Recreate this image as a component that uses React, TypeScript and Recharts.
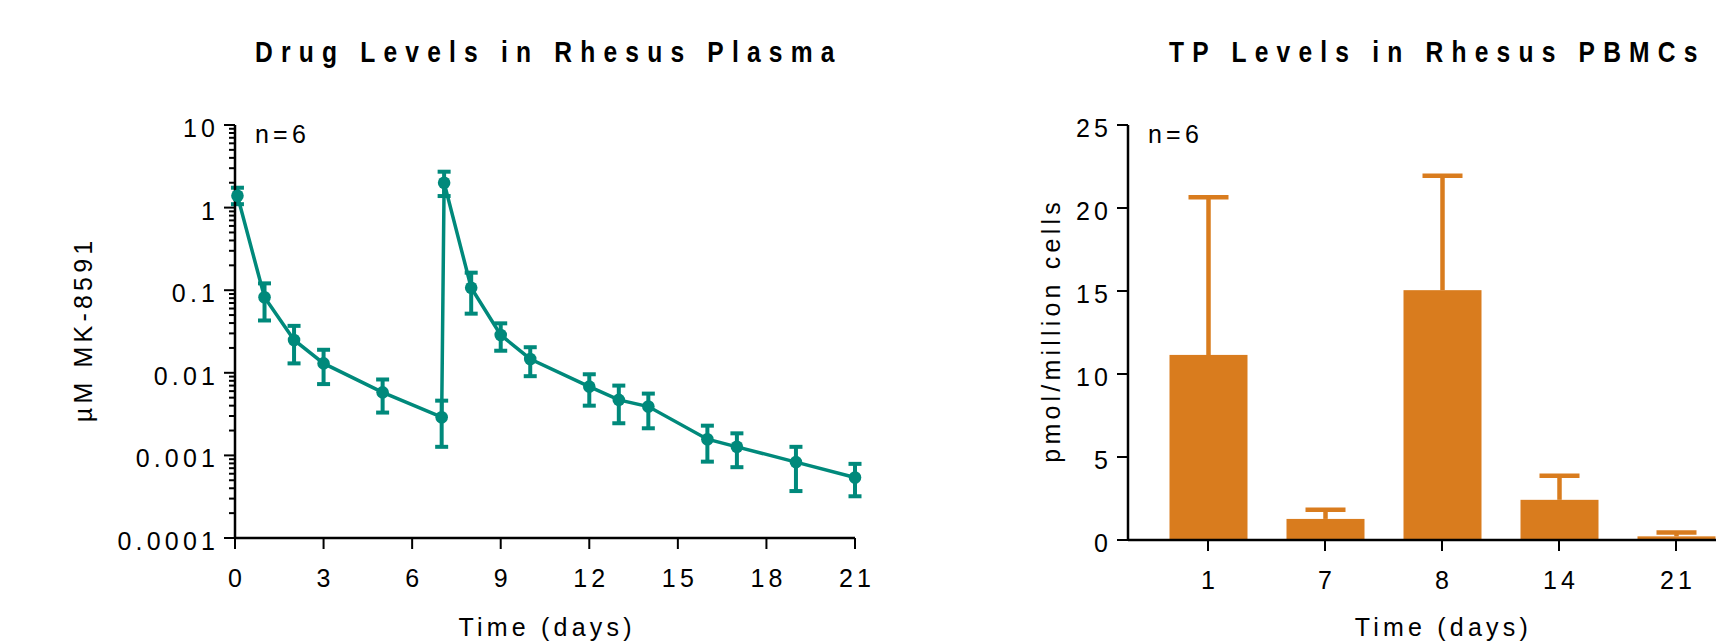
import React from 'react'
import { Bar, BarChart, ComposedChart, ErrorBar, Line, XAxis, YAxis } from 'recharts'

const TEAL = '#00897b'
const ORANGE = '#d97c1e'
const FONT = '"Liberation Sans", Arial, sans-serif'
const FS = 25 // tick / axis text size
const LS = 4.2 // Prism-style wide letter spacing

// plasma MK-8591, mean with low/high error ends (µM)
const plasmaDays = [0.083, 1, 2, 3, 5, 7, 7.083, 8, 9, 10, 12, 13, 14, 16, 17, 19, 21]
const plasmaMean = [1.39, 0.082, 0.025, 0.013, 0.0058, 0.0029, 2.0, 0.107, 0.0287, 0.0147, 0.0068, 0.0047, 0.0039, 0.00157, 0.00127, 0.00083, 0.00054]
const plasmaLow = [1.1, 0.043, 0.013, 0.0073, 0.0033, 0.00127, 1.38, 0.052, 0.0185, 0.0091, 0.004, 0.00245, 0.00213, 0.00084, 0.00072, 0.00037, 0.00032]
const plasmaHigh = [1.74, 0.121, 0.037, 0.019, 0.0083, 0.0046, 2.72, 0.163, 0.0397, 0.0204, 0.0096, 0.007, 0.0056, 0.00229, 0.00185, 0.00127, 0.00079]
const plasmaDayTicks = [0, 3, 6, 9, 12, 15, 18, 21]
const plasmaDecades = [0.0001, 0.001, 0.01, 0.1, 1, 10]
const plasmaDecadeLabels = ['0.0001', '0.001', '0.01', '0.1', '1', '10']

// TP in PBMCs, mean + SD (pmol/million cells)
const pbmcDays = ['1', '7', '8', '14', '21']
const pbmcMean = [11.15, 1.27, 15.05, 2.42, 0.22]
const pbmcSd = [9.5, 0.55, 6.9, 1.45, 0.23]
const pbmcTicks = [0, 5, 10, 15, 20, 25]

const plasmaRows = plasmaDays.map((day, i) => ({
  day,
  mean: plasmaMean[i],
  err: [plasmaMean[i] - plasmaLow[i], plasmaHigh[i] - plasmaMean[i]],
}))

// log axis: decades plus 2..9 minor ticks
const logTicks = plasmaDecades.flatMap((d, i) =>
  i === plasmaDecades.length - 1 ? [d] : [1, 2, 3, 4, 5, 6, 7, 8, 9].map((m) => m * d),
)

const pbmcRows = pbmcDays.map((day, i) => ({ day, mean: pbmcMean[i], sd: pbmcSd[i] }))

const txt = { fontFamily: FONT, fontSize: FS, letterSpacing: LS, fill: '#000' }

function LogTick(p: any) {
  const v = p.payload.value
  const idx = plasmaDecades.findIndex((d) => Math.abs(d - v) / d < 1e-6)
  const major = idx >= 0
  return (
    <g>
      <line x1={p.x - (major ? 11 : 6)} x2={p.x} y1={p.y} y2={p.y} stroke="#000" strokeWidth={2} />
      {major && (
        <text x={p.x - 20 + LS} y={p.y + 3} dy="0.36em" textAnchor="end" style={txt}>
          {plasmaDecadeLabels[idx]}
        </text>
      )}
    </g>
  )
}

function LinTick(p: any) {
  return (
    <g>
      <line x1={p.x - 11} x2={p.x} y1={p.y} y2={p.y} stroke="#000" strokeWidth={2} />
      <text x={p.x - 20 + LS} y={p.y + 3} dy="0.36em" textAnchor="end" style={txt}>
        {p.payload.value}
      </text>
    </g>
  )
}

function BottomTick(p: any) {
  return (
    <g>
      <line x1={p.x} x2={p.x} y1={p.y} y2={p.y + 11} stroke="#000" strokeWidth={2} />
      <text x={p.x + LS / 2} y={p.y + 49} textAnchor="middle" style={txt}>
        {p.payload.value}
      </text>
    </g>
  )
}

const xTitle = (text: string, dy: number, dx = 0) => (p: any) => {
  const vb = p.viewBox || {}
  return (
    <text x={vb.x + vb.width / 2 + dx + LS / 2} y={vb.y + dy} textAnchor="middle" style={txt}>
      {text}
    </text>
  )
}

const yTitle = (text: string, bx: number) => (p: any) => {
  const vb = p.viewBox || {}
  const cy = vb.y + vb.height / 2
  return (
    <text
      x={bx + LS / 2}
      y={cy}
      transform={`rotate(-90, ${bx}, ${cy})`}
      textAnchor="middle"
      style={txt}
    >
      {text}
    </text>
  )
}

// bar plus one-sided SD whisker, sized off the bar's own scaled height
function SdBar(p: any) {
  const row = p.payload || p
  const ppu = row.mean ? p.height / row.mean : 0
  const cx = p.x + p.width / 2
  const top = p.y - row.sd * ppu
  return (
    <g>
      <rect x={p.x} y={p.y} width={p.width} height={p.height} fill={ORANGE} />
      <line x1={cx} x2={cx} y1={p.y} y2={top} stroke={ORANGE} strokeWidth={4.5} />
      <line x1={cx - 20} x2={cx + 20} y1={top} y2={top} stroke={ORANGE} strokeWidth={4.5} />
    </g>
  )
}

const axisLine = { stroke: '#000', strokeWidth: 2.5 }

const titleStyle = { fontFamily: FONT, fontSize: 30, fontWeight: 700, letterSpacing: 10, fill: '#000' }
const noteStyle = { ...txt }

export default function App() {
  return (
    <div
      style={{
        position: 'fixed',
        left: 0,
        top: 0,
        width: 1716,
        height: 642,
        overflow: 'hidden',
        background: '#fff',
        fontFamily: FONT,
      }}
    >
      <div style={{ position: 'absolute', left: 0, top: 0 }}>
        <ComposedChart width={900} height={642} data={plasmaRows} margin={{ top: 125, right: 45, bottom: 0, left: 0 }}>
          <XAxis
            dataKey="day"
            type="number"
            domain={[0, 21]}
            ticks={plasmaDayTicks}
            interval={0}
            tickSize={0}
            tickMargin={0}
            tickLine={false}
            tick={(p: any) => <BottomTick {...p} />}
            axisLine={axisLine}
            height={104}
            label={xTitle('Time (days)', 98)}
          />
          <YAxis
            type="number"
            scale="log"
            domain={[0.0001, 10]}
            allowDataOverflow
            ticks={logTicks}
            interval={0}
            tickSize={0}
            tickMargin={0}
            tickLine={false}
            tick={(p: any) => <LogTick {...p} />}
            axisLine={axisLine}
            width={235}
            label={yTitle('µM MK-8591', 92)}
          />
          <Line
            type="linear"
            dataKey="mean"
            stroke={TEAL}
            strokeWidth={3.5}
            dot={{ r: 6.3, fill: TEAL, stroke: TEAL, strokeWidth: 0 }}
            isAnimationActive={false}
          >
            <ErrorBar dataKey="err" direction="y" width={6.5} strokeWidth={4} stroke={TEAL} />
          </Line>
        </ComposedChart>
      </div>

      <div style={{ position: 'absolute', left: 940, top: 0 }}>
        <BarChart width={800} height={642} data={pbmcRows} margin={{ top: 125, right: 5.5, bottom: 0, left: 0 }}>
          <XAxis
            dataKey="day"
            type="category"
            padding={{ left: 21.5, right: 0 }}
            interval={0}
            tickSize={0}
            tickMargin={0}
            tickLine={false}
            tick={(p: any) => <BottomTick {...p} />}
            axisLine={axisLine}
            height={102}
            label={xTitle('Time (days)', 96, 10)}
          />
          <YAxis
            type="number"
            domain={[0, 25]}
            ticks={pbmcTicks}
            interval={0}
            tickSize={0}
            tickMargin={0}
            tickLine={false}
            tick={(p: any) => <LinTick {...p} />}
            axisLine={axisLine}
            width={188}
            label={yTitle('pmol/million cells', 120)}
          />
          <Bar dataKey="mean" barSize={78} shape={(p: any) => <SdBar {...p} />} isAnimationActive={false} />
        </BarChart>
      </div>

      <svg width={1716} height={642} style={{ position: 'absolute', left: 0, top: 0, pointerEvents: 'none' }}>
        <text transform="translate(255,62) scale(0.82,1)" style={titleStyle}>
          Drug Levels in Rhesus Plasma
        </text>
        <text transform="translate(1169,62) scale(0.82,1)" style={titleStyle}>
          TP Levels in Rhesus PBMCs
        </text>
        <text x={255} y={143} style={noteStyle}>n=6</text>
        <text x={1148} y={143} style={noteStyle}>n=6</text>
      </svg>
    </div>
  )
}
